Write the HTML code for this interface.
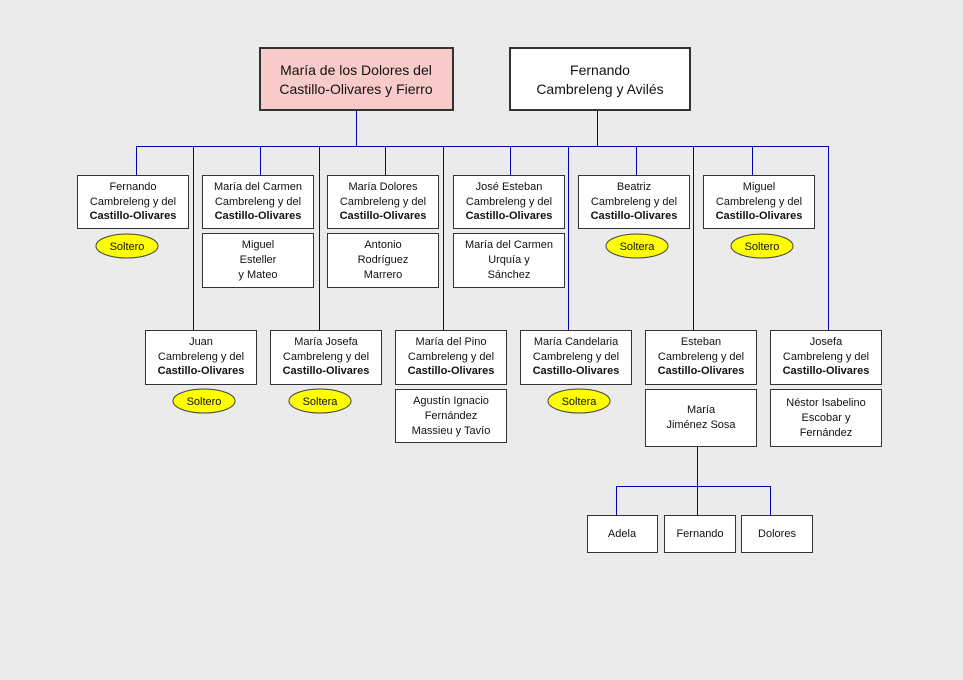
<!DOCTYPE html>
<html><head><meta charset="utf-8"><style>
html,body{margin:0;background:#ebebeb;overflow:hidden;width:963px;height:680px}
svg{display:block}
svg text{font-family:"Liberation Sans",sans-serif;font-size:11px;fill:#111;text-anchor:middle}
.b{font-weight:bold}
</style></head><body>
<svg width="963" height="680" xmlns="http://www.w3.org/2000/svg">
<rect width="963" height="680" fill="#ebebeb"/>
<g stroke="#0000b0" stroke-width="1" fill="none">
<path d="M356.5 110V146.5M597.5 110V146.5M136 146.5H829"/>
<path d="M136.5 146V175M260.5 146V175M385.5 146V175M510.5 146V175M636.5 146V175M752.5 146V175"/>
<path d="M193.5 146V330M319.5 146V330M443.5 146V330M568.5 146V330M693.5 146V330M828.5 146V330"/>
<path d="M697.5 446V486.5M616 486.5H771M616.5 486V515M697.5 486V515M770.5 486V515"/>
</g>
<rect x="260" y="48" width="193" height="62" fill="#f9caca" stroke="#333" stroke-width="2"/>
<text x="356" y="75" style="font-size:14px">María de los Dolores del</text>
<text x="356" y="94" style="font-size:14px">Castillo-Olivares y Fierro</text>
<rect x="510" y="48" width="180" height="62" fill="#fff" stroke="#333" stroke-width="2"/>
<text x="600" y="75" style="font-size:14px">Fernando</text>
<text x="600" y="94" style="font-size:14px">Cambreleng y Avilés</text>
<g fill="#fff" stroke="#333">
<rect x="77.5" y="175.5" width="111" height="53"/><rect x="202.5" y="175.5" width="111" height="53"/>
<rect x="327.5" y="175.5" width="111" height="53"/><rect x="453.5" y="175.5" width="111" height="53"/>
<rect x="578.5" y="175.5" width="111" height="53"/><rect x="703.5" y="175.5" width="111" height="53"/>
<rect x="202.5" y="233.5" width="111" height="54"/><rect x="327.5" y="233.5" width="111" height="54"/>
<rect x="453.5" y="233.5" width="111" height="54"/>
<rect x="145.5" y="330.5" width="111" height="54"/><rect x="270.5" y="330.5" width="111" height="54"/>
<rect x="395.5" y="330.5" width="111" height="54"/><rect x="520.5" y="330.5" width="111" height="54"/>
<rect x="645.5" y="330.5" width="111" height="54"/><rect x="770.5" y="330.5" width="111" height="54"/>
<rect x="395.5" y="389.5" width="111" height="53"/><rect x="645.5" y="389.5" width="111" height="57"/>
<rect x="770.5" y="389.5" width="111" height="57"/>
<rect x="587.5" y="515.5" width="70" height="37"/><rect x="664.5" y="515.5" width="71" height="37"/>
<rect x="741.5" y="515.5" width="71" height="37"/>
</g>
<g fill="#ffff00" stroke="#444">
<ellipse cx="127" cy="246" rx="31" ry="12"/><ellipse cx="637" cy="246" rx="31" ry="12"/>
<ellipse cx="762" cy="246" rx="31" ry="12"/><ellipse cx="204" cy="401" rx="31" ry="12"/>
<ellipse cx="320" cy="401" rx="31" ry="12"/><ellipse cx="579" cy="401" rx="31" ry="12"/>
</g>
<text x="127" y="250">Soltero</text><text x="637" y="250">Soltera</text><text x="762" y="250">Soltero</text>
<text x="204" y="405">Soltero</text><text x="320" y="405">Soltera</text><text x="579" y="405">Soltera</text>
<g>
<text x="133" y="190">Fernando</text><text x="133" y="205">Cambreleng y del</text><text x="133" y="219" class="b">Castillo-Olivares</text>
<text x="258" y="190">María del Carmen</text><text x="258" y="205">Cambreleng y del</text><text x="258" y="219" class="b">Castillo-Olivares</text>
<text x="383" y="190">María Dolores</text><text x="383" y="205">Cambreleng y del</text><text x="383" y="219" class="b">Castillo-Olivares</text>
<text x="509" y="190">José Esteban</text><text x="509" y="205">Cambreleng y del</text><text x="509" y="219" class="b">Castillo-Olivares</text>
<text x="634" y="190">Beatriz</text><text x="634" y="205">Cambreleng y del</text><text x="634" y="219" class="b">Castillo-Olivares</text>
<text x="759" y="190">Miguel</text><text x="759" y="205">Cambreleng y del</text><text x="759" y="219" class="b">Castillo-Olivares</text>
<text x="258" y="248">Miguel</text><text x="258" y="263">Esteller</text><text x="258" y="278">y Mateo</text>
<text x="383" y="248">Antonio</text><text x="383" y="263">Rodríguez</text><text x="383" y="278">Marrero</text>
<text x="509" y="248">María del Carmen</text><text x="509" y="263">Urquía y</text><text x="509" y="278">Sánchez</text>
<text x="201" y="345">Juan</text><text x="201" y="360">Cambreleng y del</text><text x="201" y="374" class="b">Castillo-Olivares</text>
<text x="326" y="345">María Josefa</text><text x="326" y="360">Cambreleng y del</text><text x="326" y="374" class="b">Castillo-Olivares</text>
<text x="451" y="345">María del Pino</text><text x="451" y="360">Cambreleng y del</text><text x="451" y="374" class="b">Castillo-Olivares</text>
<text x="576" y="345">María Candelaria</text><text x="576" y="360">Cambreleng y del</text><text x="576" y="374" class="b">Castillo-Olivares</text>
<text x="701" y="345">Esteban</text><text x="701" y="360">Cambreleng y del</text><text x="701" y="374" class="b">Castillo-Olivares</text>
<text x="826" y="345">Josefa</text><text x="826" y="360">Cambreleng y del</text><text x="826" y="374" class="b">Castillo-Olivares</text>
<text x="451" y="404">Agustín Ignacio</text><text x="451" y="419">Fernández</text><text x="451" y="434">Massieu y Tavío</text>
<text x="701" y="413">María</text><text x="701" y="428">Jiménez Sosa</text>
<text x="826" y="406">Néstor Isabelino</text><text x="826" y="421">Escobar y</text><text x="826" y="436">Fernández</text>
<text x="622" y="537">Adela</text><text x="700" y="537">Fernando</text><text x="777" y="537">Dolores</text>
</g>
</svg>
</body></html>
